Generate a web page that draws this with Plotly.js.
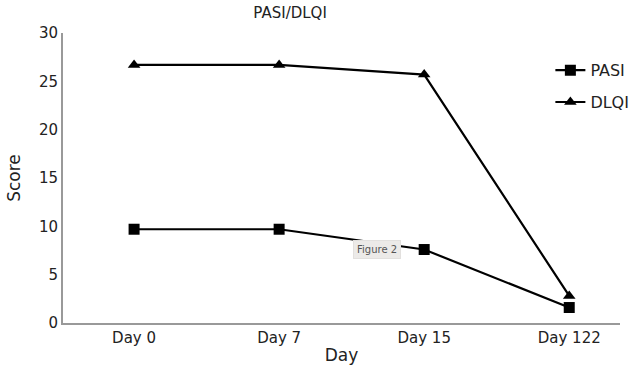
<!DOCTYPE html>
<html>
<head>
<meta charset="utf-8">
<script src="https://cdn.plot.ly/plotly-3.0.1.min.js"></script>
<style>html,body{margin:0;padding:0;background:#fff;}#chart{width:632px;height:365px;}</style>
</head>
<body>
<div id="chart"></div>
<script>
var days = ["Day 0", "Day 7", "Day 15", "Day 122"];
var pasi = [9.7, 9.7, 7.6, 1.6];
var dlqi = [26.7, 26.7, 25.7, 2.8];
var yTicks = [0, 5, 10, 15, 20, 25, 30];

var font = "DejaVu Sans, Verdana, sans-serif";
var traces = [
  {x: days, y: pasi, name: "PASI", type: "scatter", mode: "lines+markers",
   line: {color: "#000", width: 2.2}, marker: {symbol: "square", size: 11, color: "#000"},
   legendgroup: "a"},
  {x: days, y: dlqi, name: "DLQI", type: "scatter", mode: "lines+markers",
   line: {color: "#000", width: 2.2}, marker: {symbol: "triangle-up", size: 11, color: "#000"},
   legendgroup: "b"}
];
var layout = {
  width: 632, height: 365,
  margin: {l: 63, r: 12, t: 33, b: 42, autoexpand: false},
  paper_bgcolor: "#fff", plot_bgcolor: "#fff",
  font: {family: font, color: "#222", size: 15},
  title: {text: "PASI/DLQI", font: {family: font, size: 15, color: "#222"}, x: 0.459, xanchor: "center", y: 0.965, yanchor: "middle"},
  xaxis: {type: "category", range: [-0.49, 3.35], showgrid: false, zeroline: false,
    showline: true, linecolor: "#999", linewidth: 2, ticks: "",
    tickfont: {size: 15, family: font}, automargin: true,
    title: {text: "Day", font: {size: 17, family: font}, standoff: 18}},
  yaxis: {range: [0, 30], tickvals: yTicks, showgrid: false, zeroline: false,
    showline: true, linecolor: "#999", linewidth: 2, ticks: "",
    tickfont: {size: 15, family: font}, automargin: false,
    title: {text: "Score", font: {size: 17, family: font}, standoff: 14}},
  legend: {x: 0.875, y: 0.93, xanchor: "left", yanchor: "top", bgcolor: "rgba(0,0,0,0)",
    font: {size: 16, family: font}, tracegroupgap: 8, itemwidth: 30},
  showlegend: true,
  annotations: [{text: "Figure 2", xref: "paper", yref: "paper", x: 0.564, y: 0.252,
    xanchor: "center", yanchor: "middle",
    showarrow: false, font: {size: 10, family: font, color: "#555"},
    bgcolor: "#eceae8", bordercolor: "#e2e0de", borderwidth: 1, borderpad: 3}]
};
Plotly.newPlot("chart", traces, layout, {displayModeBar: false, staticPlot: true});
</script>
</body>
</html>
